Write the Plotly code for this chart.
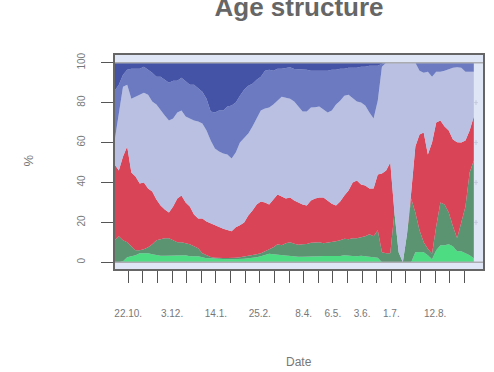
import numpy as np
import pandas as pd
import plotly.graph_objects as go

# Sampling dates (every 4 days) relative to the first labelled tick
start = pd.Timestamp("2020-10-22")
day_offsets = list(range(-13, 332, 4))
dates = [start + pd.Timedelta(days=d) for d in day_offsets]

# Cumulative share (%) of the population up to and including each age group
cum_g1 = [0, 0, 0.5, 2.5, 3, 3.5, 4.5, 4.5, 4.5, 4, 3.5, 3.3, 3.3, 3.3, 3.5, 3.5, 3.5, 3.5, 3, 3,
          3, 2.5, 2, 2, 1.8, 1.8, 1.5, 1.5, 1.5, 1.5, 1.5, 1.8, 2, 2.2, 2.5, 3, 3.5, 4.3, 4, 3.8,
          3.5, 3.2, 3.2, 2.8, 2.8, 2.8, 2.8, 3, 3, 3, 3.2, 3.2, 3, 3, 3.2, 3.5, 3.5, 3.2, 3, 3.3,
          3, 2.8, 2.5, 2.3, 0, 0, 0, 0, 0, 0, 0, 0, 5, 5.2, 5, 3.5, 1.5, 6, 8.5, 8.5,
          9, 8, 5.5, 5.5, 4.5, 3.5, 2]
cum_g2 = [11, 13, 11, 10, 8, 6, 6, 6.5, 7.5, 9, 11, 11.5, 12, 12, 11, 10, 10, 9.5, 9, 8,
          7, 4.5, 3.5, 2.7, 2.3, 2.1, 2.1, 2.1, 2.1, 2.3, 2.5, 2.8, 3.2, 3.5, 4, 4.5, 5.5, 6.8, 7.5, 9,
          8.5, 9.5, 10, 9.3, 8.8, 9, 9.2, 9.8, 10, 10, 9.5, 9.8, 10, 10.5, 11, 11.8, 11.5, 12, 12, 12.5,
          13, 14, 13, 16, 5, 4.5, 4.5, 25, 5, 0, 14, 32, 25, 16, 10, 6.8, 4.3, 18, 30, 29,
          25, 18, 12, 20, 28, 45, 51]
cum_g3 = [49, 46, 53, 58, 45, 43, 39.5, 40, 37, 35.5, 31.5, 28.5, 26.5, 25, 28, 32, 33.5, 30, 28, 24,
          22, 22, 20.5, 19.5, 18.5, 17.5, 16.8, 16.2, 15.5, 17.5, 18.5, 20, 23.5, 26, 29, 30.5, 30, 29, 31.5, 34,
          33, 32, 32.5, 31, 30, 29, 28.5, 31, 32, 32.5, 32.5, 31, 29.3, 28.5, 30.5, 33.5, 36, 40, 41, 39,
          38.5, 37, 37, 44, 44.5, 46, 50, 25, 5, 0, 14, 35, 58, 64, 65, 54, 60, 70, 71, 68,
          66, 61.5, 60.2, 60, 61, 66, 73]
cum_g4 = [61, 74, 88, 89, 82, 83, 84, 85, 84, 80.5, 79, 76, 73.5, 71, 72, 75, 76, 73, 72, 71,
          70.5, 69.5, 66, 61, 57, 55.5, 54.5, 54, 52, 55, 60, 62.5, 64.5, 68, 72, 76, 77, 77.5, 79, 81,
          83, 82.5, 82, 80.5, 78, 75.5, 75.5, 77.5, 77.7, 78, 76.5, 75, 76, 79, 81, 83.5, 84, 82, 80.5, 80,
          78.5, 75, 72, 81, 98, 100, 100, 100, 100, 100, 100, 100, 100, 96, 95, 95.5, 93, 95.5, 95.5, 96,
          96.8, 97.5, 97.7, 97.5, 95.5, 95.5, 95.5]
cum_g5 = [86, 89, 94, 96.5, 97, 97, 97, 98, 96.5, 95, 93, 93, 91.5, 90, 91, 91, 92.5, 90.5, 89, 89,
          87, 85.5, 82, 75.5, 75, 76, 76, 78, 78.5, 80, 83.5, 86.5, 88.5, 89.5, 91.5, 93, 96, 96.5, 96, 97,
          97, 97.5, 97.7, 96.8, 96.8, 96.8, 96.5, 96, 96, 96, 96, 96, 96.5, 96.5, 97, 97, 97.5, 97.5, 97.5, 98,
          98, 98.5, 98.5, 98.5, 99.5, 100, 100, 100, 100, 100, 100, 100, 100, 100, 100, 100, 100, 100, 100, 100,
          100, 100, 100, 100, 100, 100, 100]
cum_g6 = [100] * len(dates)

band_colors = ["#4edc82", "#5a9470", "#d94457", "#b9c0e1", "#6c7ac2", "#4453a6"]

# Tick marks every two weeks; a subset carries a date label
tick_dates = [start + pd.Timedelta(days=14 * i) for i in range(24)]
label_dates = ["2020-10-22", "2020-12-03", "2021-01-14", "2021-02-25", "2021-04-08",
               "2021-05-06", "2021-06-03", "2021-07-01", "2021-08-12"]
label_text = ["22.10.", "3.12.", "14.1.", "25.2.", "8.4.", "6.5.", "3.6.", "1.7.", "12.8."]
y_ticks = [0, 20, 40, 60, 80, 100]
marker_levels = [20, 40, 60, 80]

font_family = "Liberation Sans, Arial, sans-serif"
axis_grey = "#666666"
text_grey = "#777777"

fig = go.Figure()
fig.add_trace(go.Scatter(x=dates, y=[0] * len(dates), mode="lines",
                         line=dict(width=0), hoverinfo="skip", showlegend=False))
for cum, col in zip([cum_g1, cum_g2, cum_g3, cum_g4, cum_g5, cum_g6], band_colors):
    fig.add_trace(go.Scatter(x=dates, y=cum, mode="lines", line=dict(width=0, color=col),
                             fill="tonexty", fillcolor=col, hoverinfo="skip", showlegend=False))

x_lo = start - pd.Timedelta(days=12.67)
x_hi = start + pd.Timedelta(days=339.8)

fig.update_layout(
    width=494, height=372,
    margin=dict(l=115, r=9, t=55, b=103),
    paper_bgcolor="white",
    plot_bgcolor="#dfe6f6",
    font=dict(family=font_family, color=text_grey, size=10),
    title=dict(text="<b>Age structure</b>", font=dict(size=26, color="#666666", family=font_family),
               x=0.5, xref="paper", xanchor="center", y=0.982, yref="container", yanchor="middle"),
    xaxis=dict(
        type="date", range=[x_lo, x_hi],
        tickmode="array", tickvals=[pd.Timestamp(d) for d in label_dates], ticktext=label_text,
        ticks="outside", ticklen=12, tickwidth=1.3, tickcolor="#555555",
        ticklabelstandoff=22,
        tickfont=dict(size=10, color=text_grey),
        minor=dict(tickmode="array", tickvals=tick_dates, ticks="outside", ticklen=12,
                   tickwidth=1.3, tickcolor="#555555", showgrid=False),
        showline=True, linecolor=axis_grey, linewidth=2, mirror=True,
        showgrid=False, zeroline=False,
    ),
    yaxis=dict(
        range=[-3.36, 103.86],
        tickmode="array", tickvals=y_ticks, tickangle=-90,
        ticks="outside", ticklen=12, tickwidth=1.3, tickcolor="#555555",
        ticklabelstandoff=12,
        tickfont=dict(size=10, color=text_grey),
        showline=True, linecolor=axis_grey, linewidth=2, mirror=True,
        showgrid=False, zeroline=False,
    ),
    annotations=[
        dict(text="%", x=-0.235, y=0.505, xref="paper", yref="paper", showarrow=False,
             xanchor="center", yanchor="middle",
             textangle=-90, font=dict(size=13, color=text_grey)),
        dict(text="Date", x=0.5, y=-0.435, xref="paper", yref="paper", showarrow=False,
             xanchor="center", yanchor="middle",
             font=dict(size=12, color=text_grey)),
    ],
)

# Grey reference lines at 0 % and 100 %
for level in (0, 100):
    fig.add_shape(type="line", xref="paper", yref="y", x0=0, x1=1, y0=level, y1=level,
                  line=dict(color="#a9abb0", width=1.5), layer="above")

# Faint cross markers along the right edge
for level in marker_levels:
    fig.add_shape(type="line", xref="paper", yref="y", x0=0.976, x1=0.986, y0=level, y1=level,
                  line=dict(color="#c3c8dc", width=1), layer="above")
    fig.add_shape(type="line", xref="paper", yref="y", x0=0.981, x1=0.981, y0=level - 1.2,
                  y1=level + 1.2, line=dict(color="#c3c8dc", width=1), layer="above")

fig.write_html("out.html")
